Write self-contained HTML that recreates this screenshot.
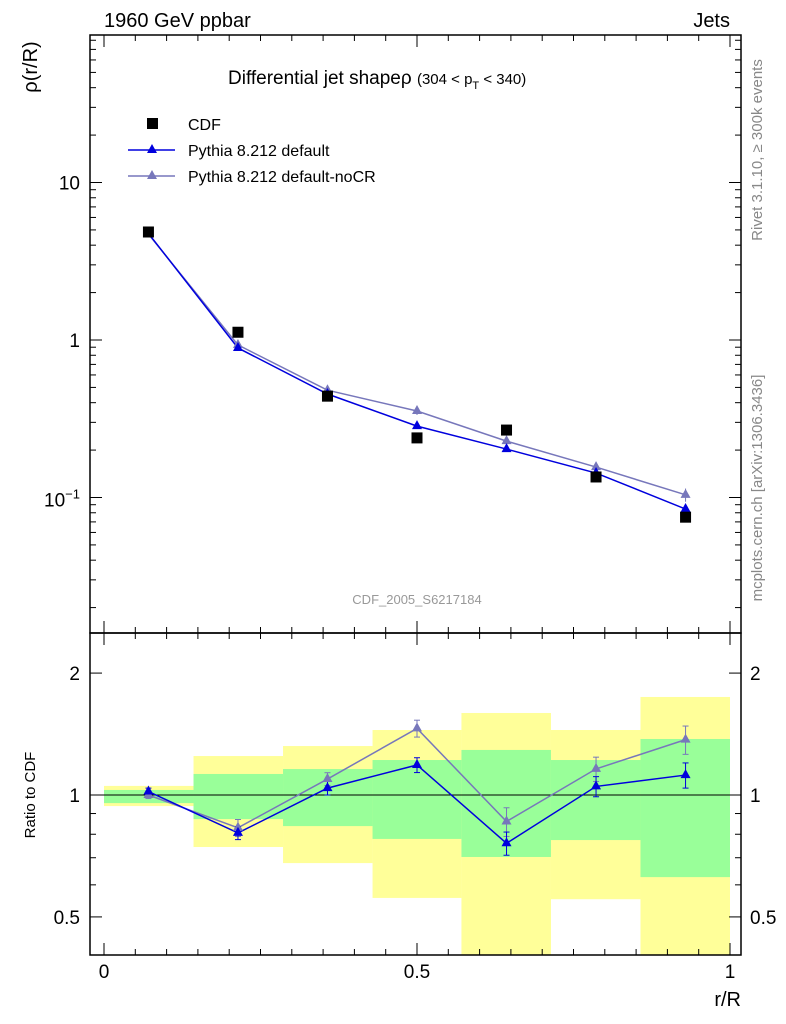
<!DOCTYPE html>
<html><head><meta charset="utf-8"><style>
body{margin:0;background:#fff}
svg{display:block;font-family:"Liberation Sans",sans-serif}
</style></head><body>
<svg id="c" width="786" height="1024" xmlns="http://www.w3.org/2000/svg">
<text x="104" y="27" font-size="20">1960 GeV ppbar</text>
<text x="730" y="27" font-size="20" text-anchor="end">Jets</text>
<text x="228" y="84" font-size="19">Differential jet shapeρ <tspan font-size="15">(304 &lt; p</tspan><tspan font-size="11" dy="5">T</tspan><tspan font-size="15" dy="-5"> &lt; 340)</tspan></text>
<text x="37" y="67" font-size="20" transform="rotate(-90 37 67)" text-anchor="middle">ρ(r/R)</text>
<text x="35" y="795" font-size="15" transform="rotate(-90 35 795)" text-anchor="middle">Ratio to CDF</text>
<text x="762" y="150" font-size="15" fill="#888" transform="rotate(-90 762 150)" text-anchor="middle">Rivet 3.1.10, ≥ 300k events</text>
<text x="762" y="488" font-size="15" fill="#888" transform="rotate(-90 762 488)" text-anchor="middle">mcplots.cern.ch [arXiv:1306.3436]</text>
<text x="417" y="604" font-size="13" fill="#999" text-anchor="middle">CDF_2005_S6217184</text>
<text x="741" y="1006" font-size="20" text-anchor="end">r/R</text>
<g id="bands"></g><g id="axes"></g><g id="marks"></g>
<g>
<rect x="147" y="118" width="11" height="11" fill="#000"/>
<text x="188" y="130" font-size="16">CDF</text>
<line x1="128" y1="150" x2="175" y2="150" stroke="#0000dd" stroke-width="1.5"/>
<polygon points="152,144 157,153 147,153" fill="#0000dd"/>
<text x="188" y="156" font-size="16">Pythia 8.212 default</text>
<line x1="128" y1="176" x2="175" y2="176" stroke="#7777bb" stroke-width="1.5"/>
<polygon points="152,170 157,179 147,179" fill="#7777bb"/>
<text x="188" y="182" font-size="16">Pythia 8.212 default-noCR</text>
</g>
</svg>
<script>
const xCenters=[0.071,0.214,0.357,0.5,0.643,0.786,0.929];
const binEdges=[0,0.143,0.286,0.429,0.571,0.714,0.857,1];
const cdf=[4.85,1.12,0.44,0.239,0.268,0.135,0.075];
const pyDef=[4.75,0.89,0.454,0.284,0.203,0.143,0.0845];
const pyNoCR=[4.7,0.93,0.48,0.354,0.228,0.156,0.104];
const pyNoCRErr=[0.05,0.02,0.015,0.02,0.015,0.012,0.01];
const ratioDef=[1.02,0.806,1.04,1.186,0.76,1.05,1.12];
const ratioNoCR=[1.0,0.83,1.095,1.46,0.86,1.16,1.37];
const ratioErrDef=[0.02,0.03,0.04,0.05,0.05,0.06,0.08];
const ratioErrNoCR=[0.02,0.04,0.04,0.07,0.07,0.08,0.11];
const yellowHi=[1.053,1.248,1.321,1.447,1.594,1.447,1.746];
const yellowLo=[0.939,0.744,0.679,0.557,0.3,0.553,0.3];
const greenHi=[1.029,1.127,1.159,1.22,1.292,1.22,1.375];
const greenLo=[0.955,0.872,0.838,0.779,0.703,0.774,0.627];
const NS='http://www.w3.org/2000/svg';
const X=v=>104+626*v;
const Y=v=>340-157.5*Math.log10(v);
const R=v=>Math.max(633,Math.min(955,795-405*Math.log10(v)));
function mk(p,t,a){const e=document.createElementNS(NS,t);for(const k in a)e.setAttribute(k,a[k]);document.getElementById(p).appendChild(e);return e;}
for(let i=0;i<7;i++){
 let e=mk('bands','rect',{x:X(binEdges[i]),y:R(yellowHi[i]),width:X(binEdges[i+1])-X(binEdges[i]),height:R(yellowLo[i])-R(yellowHi[i]),fill:'#ffff99'});
 
 
 e=mk('bands','rect',{x:X(binEdges[i]),y:R(greenHi[i]),width:X(binEdges[i+1])-X(binEdges[i]),height:R(greenLo[i])-R(greenHi[i]),fill:'#99ff99'});
 
 
}
let f=mk('axes','rect',{x:90,y:35,width:651,height:598,fill:'none',stroke:'#000','stroke-width':1.5});


f=mk('axes','rect',{x:90,y:633,width:651,height:322,fill:'none',stroke:'#000','stroke-width':1.5});


mk('axes','line',{x1:90,x2:741,y1:R(1),y2:R(1),stroke:'#000'});
for(let v=0;v<=1.0001;v+=0.05){const big=Math.abs(v*10-Math.round(v*10))<1e-6&&Math.round(v*10)%5==0;const L=big?12:6;
 for(const yb of [633,955]){mk('axes','line',{x1:X(v),x2:X(v),y1:yb,y2:yb-L,stroke:'#000'});}
 for(const yt of [35,633]){mk('axes','line',{x1:X(v),x2:X(v),y1:yt,y2:yt+L,stroke:'#000'});}}
[[0,'0'],[0.5,'0.5'],[1,'1']].forEach(([v,t])=>{const e=mk('axes','text',{x:X(v),y:978,'font-size':19,'text-anchor':'middle'});e.textContent=t;
 
 });
for(let d=-2;d<=1;d++){for(let m=1;m<10;m++){const v=m*Math.pow(10,d);const y=Y(v);if(y<35||y>633)continue;const L=m==1?12:6;
 mk('axes','line',{x1:90,x2:90+L,y1:y,y2:y,stroke:'#000'});mk('axes','line',{x1:741,x2:741-L,y1:y,y2:y,stroke:'#000'});}}
[[10,'10'],[1,'1']].forEach(([v,t])=>{const e=mk('axes','text',{x:80,y:Y(v)+7,'font-size':19,'text-anchor':'end'});e.textContent=t;
 
 });
{const e=mk('axes','text',{x:80,y:Y(0.1)+9,'font-size':19,'text-anchor':'end'});e.innerHTML='10<tspan font-size="13" dy="-8">−1</tspan>';
 
 }
[0.5,0.6,0.7,0.8,0.9,1,2].forEach(v=>{const L=(v==1||v==2||v==0.5)?12:6;const y=R(v);
 mk('axes','line',{x1:90,x2:90+L,y1:y,y2:y,stroke:'#000'});mk('axes','line',{x1:741,x2:741-L,y1:y,y2:y,stroke:'#000'});});
[[2,'2'],[1,'1'],[0.5,'0.5']].forEach(([v,t])=>{for(const [x,a] of [[80,'end'],[750,'start']]){const e=mk('axes','text',{x:x,y:R(v)+7,'font-size':19,'text-anchor':a});e.textContent=t;
 
 }});
function tri(x,y,c,name){const e=mk('marks','polygon',{points:`${x},${y-6} ${x+5},${y+3} ${x-5},${y+3}`,fill:c});
 
 }
function line(vals,fy,c,name){const l=mk('marks','polyline',{points:vals.map((v,i)=>X(xCenters[i])+','+fy(v)).join(' '),fill:'none',stroke:c,'stroke-width':1.5});
 
 }
line(pyNoCR,Y,'#7777bb','line-pythia-nocr');line(pyDef,Y,'#0000dd','line-pythia-default');
pyNoCR.forEach((v,i)=>{const x=X(xCenters[i]);mk('marks','line',{x1:x,x2:x,y1:Y(v+pyNoCRErr[i]),y2:Y(v-pyNoCRErr[i]),stroke:'#7777bb'});});
pyNoCR.forEach((v,i)=>tri(X(xCenters[i]),Y(v),'#7777bb','point-pythia-nocr'));
pyDef.forEach((v,i)=>tri(X(xCenters[i]),Y(v),'#0000dd','point-pythia-default'));
cdf.forEach((v,i)=>{const e=mk('marks','rect',{x:X(xCenters[i])-5.5,y:Y(v)-5.5,width:11,height:11,fill:'#000'});
 
 });
line(ratioNoCR,R,'#7777bb','ratio-line-nocr');line(ratioDef,R,'#0000dd','ratio-line-default');
function errs(vals,er,c){vals.forEach((v,i)=>{const x=X(xCenters[i]);mk('marks','line',{x1:x,x2:x,y1:R(v+er[i]),y2:R(v-er[i]),stroke:c});
 mk('marks','line',{x1:x-3,x2:x+3,y1:R(v+er[i]),y2:R(v+er[i]),stroke:c});mk('marks','line',{x1:x-3,x2:x+3,y1:R(v-er[i]),y2:R(v-er[i]),stroke:c});});}
errs(ratioNoCR,ratioErrNoCR,'#7777bb');errs(ratioDef,ratioErrDef,'#0000dd');
ratioNoCR.forEach((v,i)=>tri(X(xCenters[i]),R(v),'#7777bb','ratio-point-nocr'));
ratioDef.forEach((v,i)=>tri(X(xCenters[i]),R(v),'#0000dd','ratio-point-default'));
</script>
</body></html>
